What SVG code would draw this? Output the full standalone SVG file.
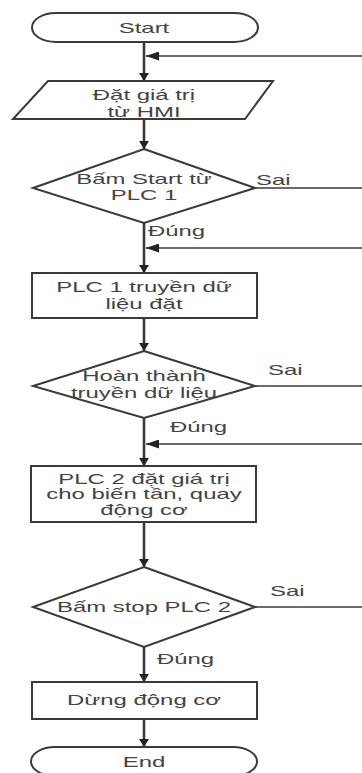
<svg xmlns="http://www.w3.org/2000/svg" width="362" height="773" viewBox="0 0 362 773">
<style>
.s{fill:#fff;stroke:#3a3a3a;stroke-width:2}
.t{font-family:"Liberation Sans",Arial,sans-serif;font-size:14.5px;fill:#444;text-anchor:middle}
.l{font-family:"Liberation Sans",Arial,sans-serif;font-size:14.5px;fill:#444;text-anchor:start}
.v{stroke:#3a3a3a;stroke-width:2.6;fill:none}
.h{stroke:#3a3a3a;stroke-width:1.7;fill:none}
</style>
<defs>
<marker id="ad" markerUnits="userSpaceOnUse" markerWidth="8" markerHeight="10" refX="8" refY="5" orient="auto"><path d="M0,0 L8,5 L0,10 z" fill="#222"/></marker>
<marker id="al" markerUnits="userSpaceOnUse" markerWidth="13" markerHeight="9" refX="13" refY="4.5" orient="auto"><path d="M0,0 L13,4.5 L0,9 z" fill="#222"/></marker>
</defs>
<rect width="362" height="773" fill="#fff"/>
<g id="connectors">
<line class="v" x1="144" y1="42" x2="144" y2="81" marker-end="url(#ad)"/>
<line class="h" x1="362" y1="56" x2="146" y2="56" marker-end="url(#al)"/>
<line class="v" x1="144" y1="119" x2="144" y2="149" marker-end="url(#ad)"/>
<line class="h" x1="255" y1="188" x2="362" y2="188"/>
<line class="v" x1="144" y1="223" x2="144" y2="273" marker-end="url(#ad)"/>
<line class="h" x1="362" y1="248" x2="146" y2="248" marker-end="url(#al)"/>
<line class="v" x1="144" y1="318" x2="144" y2="351" marker-end="url(#ad)"/>
<line class="h" x1="255" y1="386" x2="362" y2="386"/>
<line class="v" x1="144" y1="418" x2="144" y2="466" marker-end="url(#ad)"/>
<line class="h" x1="362" y1="444" x2="146" y2="444" marker-end="url(#al)"/>
<line class="v" x1="144" y1="522" x2="144" y2="567" marker-end="url(#ad)"/>
<line class="h" x1="255" y1="607" x2="362" y2="607"/>
<line class="v" x1="144" y1="647" x2="144" y2="682" marker-end="url(#ad)"/>
<line class="v" x1="144" y1="719" x2="144" y2="747" marker-end="url(#ad)"/>
<text class="l" transform="translate(256,185) scale(1.65,1)">Sai</text>
<text class="l" transform="translate(148,236) scale(1.65,1)">Đúng</text>
<text class="l" transform="translate(268,375) scale(1.65,1)">Sai</text>
<text class="l" transform="translate(170,432) scale(1.65,1)">Đúng</text>
<text class="l" transform="translate(270,596) scale(1.65,1)">Sai</text>
<text class="l" transform="translate(157,664) scale(1.65,1)">Đúng</text>
</g>
<g id="start">
<rect class="s" x="32" y="13" width="226" height="29" rx="24" ry="14.5"/>
<text class="t" transform="translate(144,33) scale(1.65,1)">Start</text>
</g>
<g id="input">
<polygon class="s" points="48,81 273,81 245,119 13,119"/>
<text class="t" transform="translate(144,100) scale(1.65,1)">Đặt giá trị</text>
<text class="t" transform="translate(144,117) scale(1.65,1)">từ HMI</text>
</g>
<g id="dec1">
<polygon class="s" points="144,149 255,188 144,223 33,188"/>
<text class="t" transform="translate(144,184) scale(1.65,1)">Bấm Start từ</text>
<text class="t" transform="translate(144,200) scale(1.65,1)">PLC 1</text>
</g>
<g id="proc1">
<rect class="s" x="32" y="273" width="225" height="45"/>
<text class="t" transform="translate(144,292) scale(1.65,1)">PLC 1 truyền dữ</text>
<text class="t" transform="translate(144,309) scale(1.65,1)">liệu đặt</text>
</g>
<g id="dec2">
<polygon class="s" points="144,351 255,386 144,418 33,386"/>
<text class="t" transform="translate(144,381) scale(1.65,1)">Hoàn thành</text>
<text class="t" transform="translate(144,398) scale(1.65,1)">truyền dữ liệu</text>
</g>
<g id="proc2">
<rect class="s" x="31" y="466" width="225" height="56"/>
<text class="t" transform="translate(144,484) scale(1.65,1)">PLC 2 đặt giá trị</text>
<text class="t" transform="translate(144,499) scale(1.65,1)">cho biến tần, quay</text>
<text class="t" transform="translate(144,515) scale(1.65,1)">động cơ</text>
</g>
<g id="dec3">
<polygon class="s" points="144,567 255,607 144,647 33,607"/>
<text class="t" transform="translate(144,612) scale(1.65,1)">Bấm stop PLC 2</text>
</g>
<g id="proc3">
<rect class="s" x="32" y="682" width="225" height="37"/>
<text class="t" transform="translate(144,705) scale(1.65,1)">Dừng động cơ</text>
</g>
<g id="end">
<rect class="s" x="31" y="747" width="226" height="29" rx="24" ry="14.5"/>
<text class="t" transform="translate(144,767) scale(1.65,1)">End</text>
</g>
</svg>
